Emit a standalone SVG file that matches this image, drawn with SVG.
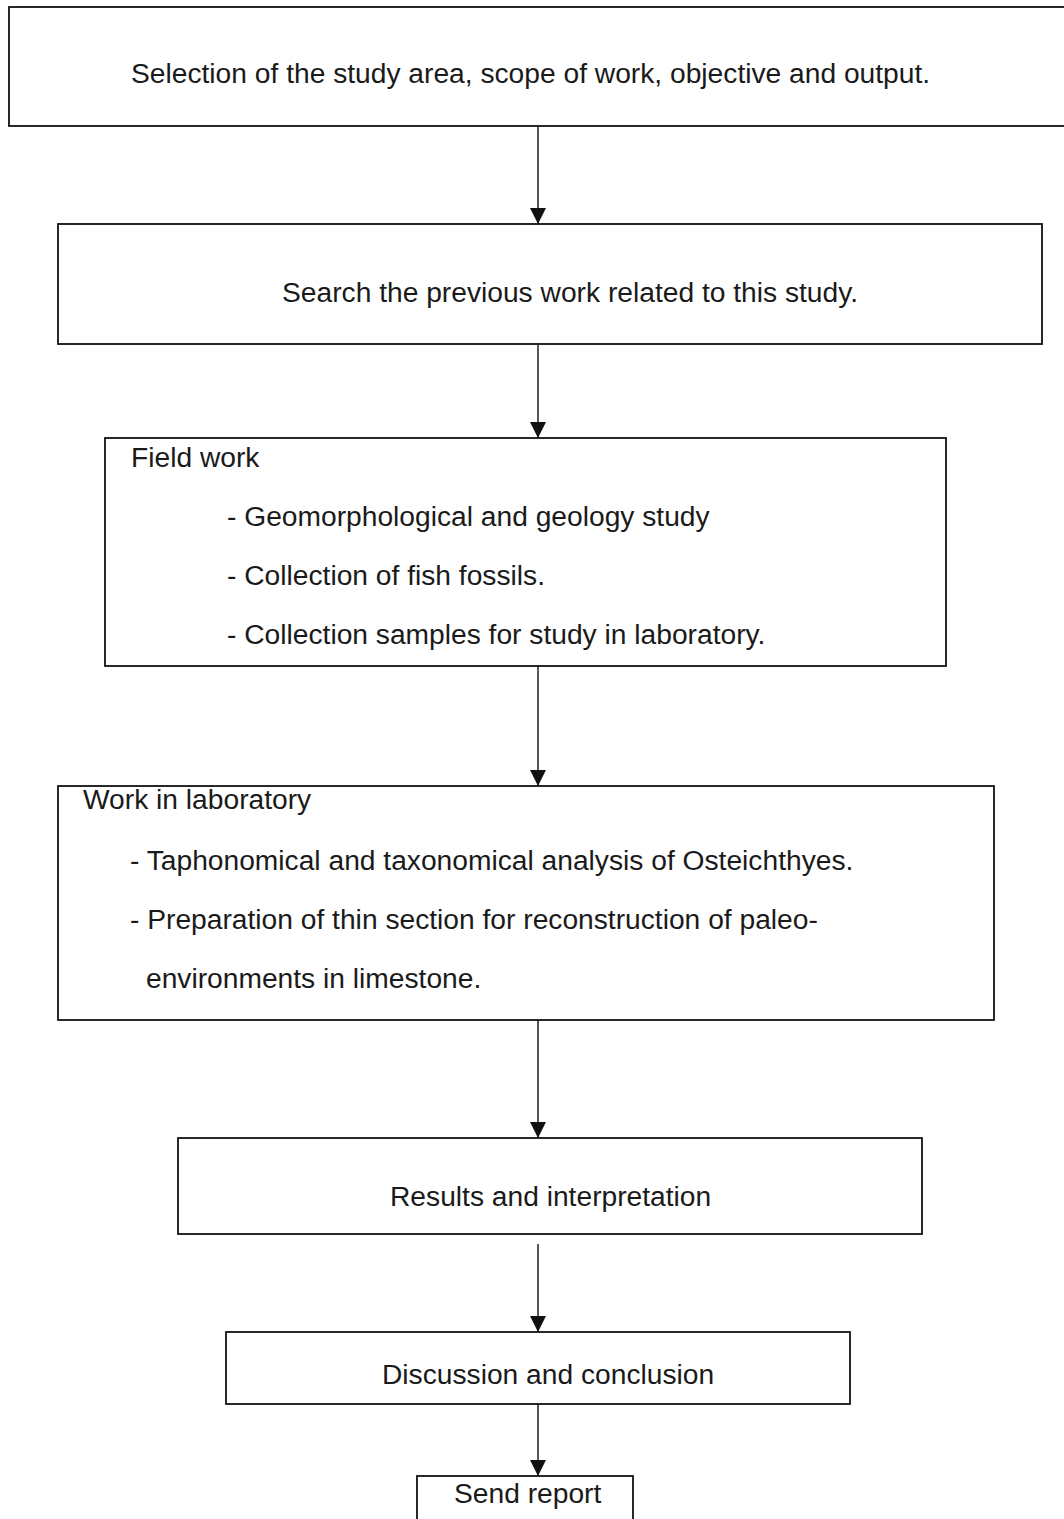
<svg xmlns="http://www.w3.org/2000/svg" width="1064" height="1519" viewBox="0 0 1064 1519">
<style>
.box{fill:#fff;stroke:#111;stroke-width:1.8}
.t{font-family:"Liberation Sans",Arial,sans-serif;font-size:28.2px;fill:#1a1a1a}
.c{stroke:#111;stroke-width:1.4;fill:none}
</style>
<defs>
<marker id="ah" markerUnits="userSpaceOnUse" markerWidth="17" markerHeight="18" refX="16" refY="8.5" orient="auto">
<path d="M0,0.5 L16,8.5 L0,16.5 z" fill="#111"/>
</marker>
</defs>
<rect width="1064" height="1519" fill="#fff"/>
<g id="connectors">
<line class="c" x1="538" y1="127" x2="538" y2="224" marker-end="url(#ah)"/>
<line class="c" x1="538" y1="345" x2="538" y2="438" marker-end="url(#ah)"/>
<line class="c" x1="538" y1="666" x2="538" y2="786" marker-end="url(#ah)"/>
<line class="c" x1="538" y1="1020" x2="538" y2="1138" marker-end="url(#ah)"/>
<line class="c" x1="538" y1="1244" x2="538" y2="1332" marker-end="url(#ah)"/>
<line class="c" x1="538" y1="1404" x2="538" y2="1476" marker-end="url(#ah)"/>
</g>
<g id="n1">
<rect class="box" x="9" y="7" width="1070" height="119"/>
<text class="t" x="131" y="83">Selection of the study area, scope of work, objective and output.</text>
</g>
<g id="n2">
<rect class="box" x="58" y="224" width="984" height="120"/>
<text class="t" x="282" y="302">Search the previous work related to this study.</text>
</g>
<g id="n3">
<rect class="box" x="105" y="438" width="841" height="228"/>
<text class="t" x="131" y="467">Field work</text>
<text class="t" x="227" y="526">- Geomorphological and geology study</text>
<text class="t" x="227" y="585">- Collection of fish fossils.</text>
<text class="t" x="227" y="644">- Collection samples for study in laboratory.</text>
</g>
<g id="n4">
<rect class="box" x="58" y="786" width="936" height="234"/>
<text class="t" x="83" y="809">Work in laboratory</text>
<text class="t" x="130" y="870">- Taphonomical and taxonomical analysis of Osteichthyes.</text>
<text class="t" x="130" y="929">- Preparation of thin section for reconstruction of paleo-</text>
<text class="t" x="146" y="988">environments in limestone.</text>
</g>
<g id="n5">
<rect class="box" x="178" y="1138" width="744" height="96"/>
<text class="t" x="390" y="1206">Results and interpretation</text>
</g>
<g id="n6">
<rect class="box" x="226" y="1332" width="624" height="72"/>
<text class="t" x="382" y="1384">Discussion and conclusion</text>
</g>
<g id="n7">
<rect class="box" x="417" y="1476" width="216" height="60"/>
<text class="t" x="454" y="1503">Send report</text>
</g>
</svg>
